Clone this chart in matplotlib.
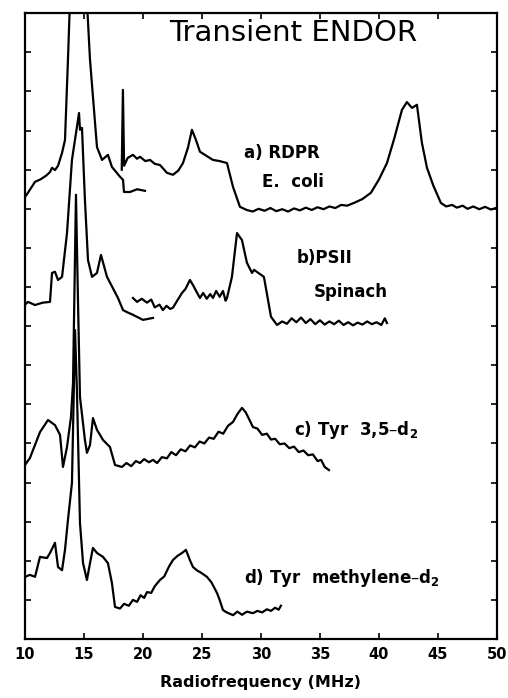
import numpy as np
import matplotlib.pyplot as plt

# spectra: frequency (MHz), offset intensity (arb.)
# a) RDPR E. coli, low-frequency piece
a1_f = [10.0, 10.25, 10.85, 11.3, 11.8, 12.12, 12.29, 12.54, 12.8, 13.14, 13.39, 13.64, 13.81,
        14.5, 15.25, 15.51, 16.1, 16.53, 17.03, 17.37, 17.7, 18.05, 18.31, 18.39, 18.9, 19.5, 20.17]
a1_y = [11.3, 11.41, 11.69, 11.75, 11.85, 11.94, 12.05, 11.99, 12.1, 12.43, 12.76, 14.8, 16.3,
        19.0, 16.3, 14.81, 12.58, 12.25, 12.38, 12.07, 11.95, 11.82, 11.74, 11.43, 11.43, 11.5, 11.46]
# a) RDPR E. coli, high-frequency piece
a2_f = [18.2, 18.3, 18.4, 18.7, 19.15, 19.5, 19.75, 20.2, 20.6, 21.0, 21.44, 21.8, 22.03, 22.54,
        23.0, 23.39, 23.81, 24.15, 24.49, 24.83, 25.4, 25.93, 26.5, 27.12, 27.63, 28.22, 28.8,
        29.3, 29.8, 30.3, 30.8, 31.3, 31.8, 32.3, 32.8, 33.3, 33.8, 34.3, 34.8, 35.3, 35.8, 36.3,
        36.8, 37.3, 37.88, 38.6, 39.32, 40.0, 40.68, 41.3, 41.95, 42.37, 42.8, 43.22, 43.64, 44.07,
        44.6, 45.25, 45.7, 46.2, 46.6, 47.1, 47.5, 48.0, 48.5, 49.0, 49.5, 50.0]
a2_y = [12.0, 14.04, 12.1, 12.3, 12.38, 12.28, 12.33, 12.22, 12.25, 12.15, 12.12, 12.0, 11.92, 11.87,
        11.98, 12.17, 12.56, 13.02, 12.76, 12.46, 12.35, 12.25, 12.22, 12.17, 11.56, 11.05, 10.97,
        10.93, 11.0, 10.95, 11.02, 10.94, 10.99, 10.93, 11.01, 10.96, 11.03, 10.97, 11.04, 10.99,
        11.06, 11.02, 11.1, 11.08, 11.15, 11.25, 11.41, 11.75, 12.17, 12.8, 13.53, 13.73, 13.58,
        13.66, 12.69, 12.05, 11.6, 11.15, 11.06, 11.1, 11.03, 11.08, 11.0, 11.06, 10.99, 11.05,
        10.98, 11.03]

# b) PSII spinach
b1_f = [10.0, 10.25, 10.85, 11.5, 12.12, 12.29, 12.54, 12.8, 13.14, 13.56, 13.98, 14.58, 14.66,
        14.83, 15.08, 15.34, 15.68, 16.1, 16.44, 16.95, 17.4, 17.88, 18.31, 18.7, 19.15, 20.0, 20.85]
b1_y = [8.55, 8.62, 8.54, 8.6, 8.62, 9.36, 9.39, 9.18, 9.26, 10.38, 12.25, 13.45, 13.02,
        13.07, 11.23, 9.69, 9.26, 9.36, 9.82, 9.26, 9.0, 8.72, 8.41, 8.35, 8.29, 8.16, 8.21]
b2_f = [19.15, 19.5, 19.9, 20.34, 20.7, 21.0, 21.4, 21.69, 22.0, 22.3, 22.54, 22.9, 23.31, 23.6,
        23.98, 24.24, 24.5, 24.83, 25.1, 25.4, 25.7, 25.93, 26.2, 26.5, 26.78, 27.0, 27.12, 27.3,
        27.54, 27.97, 28.39, 28.81, 29.24, 29.41, 30.25, 30.85, 31.36, 31.8, 32.2, 32.6, 33.0,
        33.4, 33.8, 34.2, 34.6, 35.0, 35.4, 35.8, 36.2, 36.6, 37.0, 37.4, 37.8, 38.2, 38.6, 39.0,
        39.4, 39.8, 40.2, 40.5, 40.68]
b2_y = [8.72, 8.62, 8.7, 8.6, 8.68, 8.48, 8.55, 8.41, 8.52, 8.44, 8.47, 8.65, 8.85, 8.95,
        9.18, 9.05, 8.9, 8.72, 8.85, 8.7, 8.82, 8.72, 8.9, 8.75, 8.9, 8.65, 8.72, 8.95,
        9.26, 10.38, 10.2, 9.62, 9.36, 9.44, 9.26, 8.24, 8.03, 8.12, 8.06, 8.2, 8.1,
        8.22, 8.08, 8.18, 8.05, 8.15, 8.04, 8.12, 8.05, 8.14, 8.03, 8.1, 8.02, 8.09, 8.04, 8.12,
        8.05, 8.1, 8.03, 8.2, 8.08]

# c) Tyr 3,5-d2
c_f = [10.0, 10.42, 11.27, 11.95, 12.54, 12.97, 13.22, 13.56, 13.9, 14.07, 14.32, 14.49, 14.66,
       15.08, 15.25, 15.51, 15.76, 16.1, 16.61, 17.2, 17.63, 18.22, 18.6, 19.0, 19.4, 19.75, 20.1,
       20.5, 20.85, 21.2, 21.6, 22.03, 22.4, 22.8, 23.2, 23.6, 24.0, 24.4, 24.8, 25.2, 25.6, 26.0,
       26.4, 26.8, 27.2, 27.63, 28.0, 28.39, 28.7, 28.9, 29.32, 29.7, 30.1, 30.5, 30.85, 31.2,
       31.6, 32.0, 32.4, 32.8, 33.2, 33.6, 34.0, 34.4, 34.8, 35.1, 35.4, 35.76]
c_y = [4.45, 4.63, 5.29, 5.6, 5.47, 5.22, 4.4, 4.91, 5.68, 6.55, 11.36, 8.67, 6.19,
       5.09, 4.76, 4.96, 5.65, 5.35, 5.09, 4.91, 4.45, 4.4, 4.5, 4.42, 4.55, 4.5, 4.6,
       4.52, 4.58, 4.5, 4.65, 4.62, 4.78, 4.7, 4.85, 4.8, 4.95, 4.9, 5.05, 5.0, 5.15, 5.12,
       5.3, 5.25, 5.45, 5.55, 5.75, 5.91, 5.8, 5.68, 5.42, 5.38, 5.22, 5.25, 5.1, 5.12,
       4.98, 5.0, 4.88, 4.92, 4.78, 4.82, 4.7, 4.72, 4.55, 4.58, 4.4, 4.32]

# d) Tyr methylene-d2
d_f = [10.0, 10.42, 10.85, 11.27, 11.86, 12.12, 12.54, 12.8, 13.14, 13.39, 13.64, 13.98, 14.24,
       14.4, 14.66, 14.92, 15.25, 15.51, 15.76, 16.1, 16.61, 17.03, 17.37, 17.63, 18.05, 18.4,
       18.8, 19.15, 19.5, 19.8, 20.1, 20.34, 20.7, 21.0, 21.44, 21.8, 22.2, 22.54, 22.9, 23.31,
       23.64, 24.0, 24.24, 24.6, 24.9, 25.42, 25.8, 26.27, 26.5, 26.78, 27.1, 27.63, 28.0, 28.4,
       28.8, 29.32, 29.7, 30.1, 30.5, 30.85, 31.2, 31.5, 31.69]
d_y = [1.59, 1.64, 1.59, 2.1, 2.07, 2.2, 2.46, 1.84, 1.76, 2.28, 3.04, 3.99, 7.9,
       6.37, 2.97, 1.94, 1.51, 1.94, 2.33, 2.2, 2.1, 1.94, 1.43, 0.82, 0.78, 0.9,
       0.85, 1.0, 0.95, 1.12, 1.05, 1.2, 1.18, 1.35, 1.51, 1.6, 1.85, 2.02, 2.12, 2.2,
       2.28, 2.0, 1.84, 1.75, 1.7, 1.59, 1.45, 1.18, 1.0, 0.74, 0.68, 0.61, 0.7, 0.62,
       0.7, 0.66, 0.72, 0.68, 0.76, 0.72, 0.8, 0.75, 0.85]

x_ticks = [10, 15, 20, 25, 30, 35, 40, 45, 50]

fig = plt.figure(figsize=(5.08, 6.98), dpi=100)
ax = fig.add_axes([0.0492, 0.0845, 0.929, 0.8965])

for f, y in [(a1_f, a1_y), (a2_f, a2_y), (b1_f, b1_y), (b2_f, b2_y), (c_f, c_y), (d_f, d_y)]:
    ax.plot(f, y, color='black', lw=1.6, solid_joinstyle='round')

ax.set_xlim(10, 50)
ax.set_ylim(0, 16)
ax.set_xticks(x_ticks)
ax.set_xticklabels([str(t) for t in x_ticks], fontsize=10.5, fontweight='bold')
ax.set_yticks(np.arange(1, 16))
ax.tick_params(direction='in', length=4, width=1.2, top=True, right=True,
               labelleft=False, pad=6)
for s in ax.spines.values():
    s.set_linewidth(1.6)

ax.set_xlabel('Radiofrequency (MHz)', fontsize=11.5, fontweight='bold', labelpad=9)

ax.text(0.568, 0.968, 'Transient ENDOR', transform=ax.transAxes, ha='center', va='center',
        fontsize=21, fontweight='normal')

lab = dict(fontsize=12, fontweight='bold', va='center', ha='left')
ax.text(28.6, 12.43, 'a) RDPR', **lab)
ax.text(30.1, 11.69, 'E.  coli', **lab)
ax.text(33.0, 9.74, 'b)PSII', **lab)
ax.text(34.5, 8.87, 'Spinach', **lab)
ax.text(32.8, 5.35, 'c) Tyr  3,5\u2013d$_\\mathbf{2}$', **lab)
ax.text(28.6, 1.56, 'd) Tyr  methylene\u2013d$_\\mathbf{2}$', **lab)

fig.savefig('out.png', dpi=100)
